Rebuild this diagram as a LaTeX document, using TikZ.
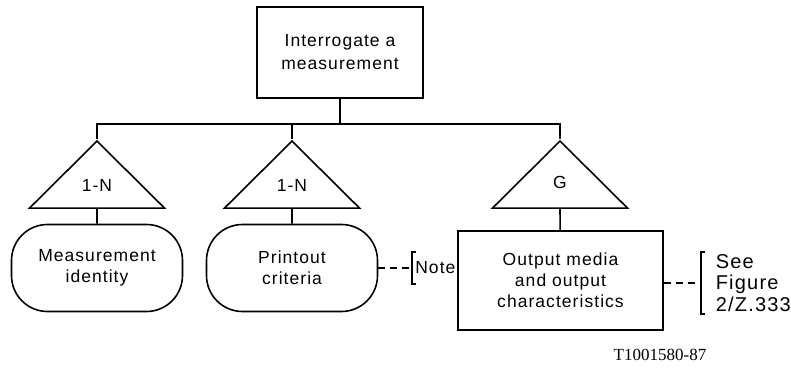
\documentclass[tikz,border=0pt]{standalone}
\usepackage{fontspec}
\setmainfont{Liberation Sans}[LetterSpace=6]
\newfontfamily\serialfont{Liberation Serif}
\usetikzlibrary{shapes.geometric}
\tikzset{
  box/.style={draw, rectangle, align=center, inner sep=0pt},
  item/.style={draw, rectangle, rounded corners=36pt, align=center, minimum width=171pt, minimum height=87pt, inner sep=0pt},
  tri/.style={draw, isosceles triangle, shape border rotate=90, isosceles triangle stretches, minimum width=135pt, minimum height=67pt, inner sep=0pt, anchor=north},
  link/.style={dash pattern=on 7pt off 5pt},
  brk/.style={anchor=west, align=left, inner ysep=0pt},
}
\begin{document}
\begin{tikzpicture}[x=10pt, y=10pt, line width=1.6pt, font=\fontsize{17.5}{21}\selectfont]
\useasboundingbox (0,0) rectangle (79.1,36.7);
\node[box, minimum width=166pt, minimum height=91pt, font=\fontsize{17.5}{23}\selectfont] (m) at (34,31.45) {Interrogate a\\measurement};
\coordinate (bus) at (34,24.3);
\node[tri] (t1) at (9.7,22.8) {1-N};
\node[tri] (t2) at (29.2,22.8) {1-N};
\node[tri] (t3) at (56,22.8) {G};
\node[item] (a) at (9.7,9.9) {Measurement\\identity};
\node[item] (b) at (29.2,9.9) {Printout\\criteria};
\node[box, minimum width=205pt, minimum height=99pt] (o) at (56.05,8.65) {Output media\\and output\\characteristics};
\node[brk, inner xsep=2.5pt, minimum height=30pt] (n) at (41.2,9.9) {Note};
\node[brk, inner xsep=14pt, minimum height=60pt, font=\fontsize{20}{21.5}\selectfont] (s) at (70.1,8.4) {See\\Figure\\2/Z.333};
\node[font=\serialfont\fontsize{17}{20}\selectfont] (c) at (66,1.2) {T1001580-87};
\draw (m) -- (bus);
\draw (t1.north) -- (t1.north|-bus) -- (t3.north|-bus) -- (t3.north);
\draw (t2.north) -- (t2.north|-bus);
\draw (t1.south) -- (a);
\draw (t2.south) -- (b);
\draw (t3.south) -- (o);
\draw[link] (b) -- (n);
\draw[link] (o.east|-s) -- (s.west);
\draw ([xshift=4pt]n.north west) -- (n.north west) -- (n.south west) -- ([xshift=4pt]n.south west);
\draw ([xshift=4pt]s.north west) -- (s.north west) -- (s.south west) -- ([xshift=4pt]s.south west);
\end{tikzpicture}
\end{document}
